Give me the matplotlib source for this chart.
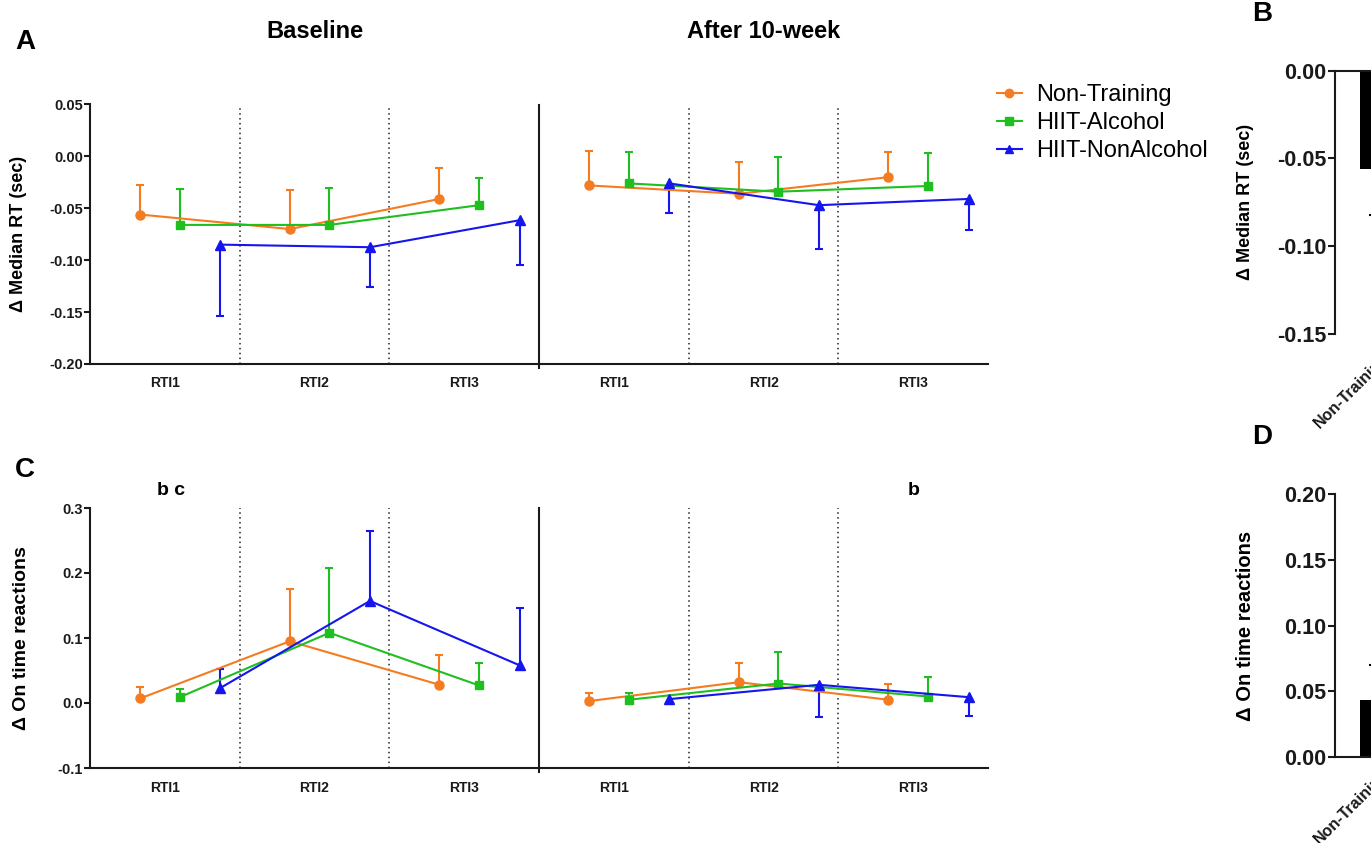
import numpy as np
import matplotlib.pyplot as plt
from matplotlib.lines import Line2D
from matplotlib.transforms import blended_transform_factory

plt.rcParams.update({
    "font.family": ["Liberation Sans", "DejaVu Sans"],
    "font.weight": "bold",
    "axes.labelweight": "bold",
    "axes.linewidth": 1.5,
    "axes.edgecolor": "#1a1a1a",
    "xtick.color": "#1a1a1a",
    "ytick.color": "#1a1a1a",
})

W, H = 1371, 843

# ---- data ----
groups = ["RTI1", "RTI2", "RTI3", "RTI1", "RTI2", "RTI3"]
series = ["Non-Training", "HIIT-Alcohol", "HIIT-NonAlcohol"]
colors = ["#F57B20", "#1FBF1F", "#1515EE"]
markers = ["o", "s", "^"]
offsets = [-0.165, 0.10, 0.37]

# Panel A: delta median RT (sec); first 3 = baseline, last 3 = after 10-week
rt_nt = [-0.056, -0.070, -0.041, -0.028, -0.036, -0.020]
rt_ha = [-0.066, -0.066, -0.047, -0.026, -0.034, -0.0285]
rt_hn = [-0.085, -0.0875, -0.0615, -0.026, -0.047, -0.041]
# signed error bars (only one side drawn): + up, - down
rt_nt_err = [0.028, 0.038, 0.030, 0.033, 0.0305, 0.024]
rt_ha_err = [0.035, 0.036, 0.026, 0.030, 0.033, 0.0315]
rt_hn_err = [-0.069, -0.0385, -0.0435, -0.029, -0.042, -0.0295]

# Panel C: delta on time reactions
ot_nt = [0.007, 0.095, 0.028, 0.003, 0.032, 0.005]
ot_ha = [0.009, 0.108, 0.027, 0.005, 0.030, 0.010]
ot_hn = [0.023, 0.157, 0.058, 0.006, 0.028, 0.009]
ot_nt_err = [0.018, 0.081, 0.046, 0.012, 0.030, 0.024]
ot_ha_err = [0.012, 0.099, 0.034, 0.010, 0.048, 0.030]
ot_hn_err = [0.030, 0.107, 0.088, -0.008, -0.049, -0.029]

# Panels B / D (only the first bar is inside the picture)
bar_labels = ["Non-Training"]
rt_bar = [-0.056]
rt_bar_err = [-0.026]
ot_bar = [0.043]
ot_bar_err = [0.027]


def px_axes(left, top, right, bottom):
    return fig.add_axes([left / W, 1 - bottom / H, (right - left) / W, (bottom - top) / H])


def line_panel(ax, means, errs, ylim, yticks, fmt):
    x0 = np.arange(len(groups))
    for i in range(len(series)):
        x = x0 + offsets[i]
        y = np.array(means[i])
        ends = y + np.array(errs[i])
        ax.vlines(x, y, ends, color=colors[i], lw=1.5, zorder=2)
        ax.plot(x, ends, ls="none", marker="_", ms=6, mew=1.5, color=colors[i], zorder=2)
        for seg in (slice(0, 3), slice(3, 6)):
            ax.plot(x[seg], y[seg], color=colors[i], lw=1.5, marker=markers[i],
                    ms=6.5 if markers[i] != "s" else 6, zorder=3)
    for b in (0.5, 1.5, 3.5, 4.5):
        ax.axvline(b, color="#222222", lw=1.1, ls=(0, (1, 2.2)), zorder=1)
    ax.axvline(2.5, ymin=-0.015, color="#1a1a1a", lw=1.5, clip_on=False, zorder=1)
    ax.set_xlim(-0.5, 5.5)
    ax.set_ylim(*ylim)
    ax.set_xticks(x0)
    ax.set_xticklabels(groups, fontsize=10)
    ax.set_yticks(yticks)
    ax.set_yticklabels([fmt % v for v in yticks], fontsize=10.5)
    ax.tick_params(axis="x", length=0, pad=9)
    ax.tick_params(axis="y", length=4, width=1.5, pad=1)
    for s in ("top", "right"):
        ax.spines[s].set_visible(False)


fig = plt.figure(figsize=(W / 100, H / 100), dpi=100)

axA = px_axes(90, 104.5, 988, 364)
line_panel(axA, [rt_nt, rt_ha, rt_hn], [rt_nt_err, rt_ha_err, rt_hn_err],
           (-0.20, 0.05), [-0.20, -0.15, -0.10, -0.05, 0.00, 0.05], "%.2f")
axA.set_ylabel("\u0394 Median RT (sec)", fontsize=13, va="center")
axA.yaxis.set_label_coords(-0.080, 0.5)

axC = px_axes(90, 508, 988, 768)
line_panel(axC, [ot_nt, ot_ha, ot_hn], [ot_nt_err, ot_ha_err, ot_hn_err],
           (-0.1, 0.3), [-0.1, 0.0, 0.1, 0.2, 0.3], "%.1f")
axC.set_ylabel("\u0394 On time reactions", fontsize=14, va="center")
axC.yaxis.set_label_coords(-0.076, 0.5)

tA = blended_transform_factory(axA.transData, axA.transAxes)
axA.text(1, 1.28, "Baseline", transform=tA, ha="center", va="center", fontsize=17)
axA.text(4, 1.28, "After 10-week", transform=tA, ha="center", va="center", fontsize=17)

tC = blended_transform_factory(axC.transData, axC.transAxes)
axC.text(0.04, 1.069, "b c", transform=tC, ha="center", va="center", fontsize=14)
axC.text(5.0, 1.069, "b", transform=tC, ha="center", va="center", fontsize=14)

handles = [Line2D([], [], color=colors[i], marker=markers[i], lw=1.5, ms=6) for i in range(3)]
fig.legend(handles, series, loc="upper left", bbox_to_anchor=(997 / W, 1 - 84 / H),
           frameon=False, prop={"size": 17, "weight": "normal"}, handlelength=1.05,
           handletextpad=0.6, labelspacing=0.25, borderpad=0, borderaxespad=0)

# ---- bar panels (cut by the right edge) ----
def bar_panel(ax, vals, errs, ylim, yticks, label, lsize, lpad):
    x = np.arange(len(vals))
    ax.bar(x, vals, width=0.74, color="black", zorder=2)
    ends = np.array(vals) + np.array(errs)
    ax.vlines(x, vals, ends, color="black", lw=1.5, zorder=1)
    ax.plot(x, ends, ls="none", marker="_", ms=19, mew=1.5, color="black", zorder=1)
    ax.set_xlim(-0.78, 4.22)
    ax.set_ylim(*ylim)
    ax.set_yticks(yticks)
    ax.set_yticklabels(["%.2f" % v for v in yticks], fontsize=15.5)
    ax.set_xticks(x)
    ax.set_xticklabels(bar_labels, rotation=45, ha="right", va="top",
                       rotation_mode="anchor", fontsize=11.5)
    ax.tick_params(axis="x", length=0, pad=lpad)
    ax.tick_params(axis="y", length=5, width=1.5, pad=1)
    ax.spines["right"].set_visible(False)
    ax.set_ylabel(label, fontsize=lsize, va="center")
    ax.yaxis.set_label_coords(-0.297, 0.5)


axB = px_axes(1335, 70.7, 1635, 334)
bar_panel(axB, rt_bar, rt_bar_err, (-0.15, 0.0), [-0.15, -0.10, -0.05, 0.00],
          "\u0394 Median RT (sec)", 13, 12)
axB.spines["bottom"].set_visible(False)

axD = px_axes(1335, 494, 1635, 757)
bar_panel(axD, ot_bar, ot_bar_err, (0.0, 0.20), [0.00, 0.05, 0.10, 0.15, 0.20],
          "\u0394 On time reactions", 14.5, 7)
axD.spines["top"].set_visible(False)

for letter, xp, yp in (("A", 25, 42), ("C", 25, 470), ("B", 1262, 14), ("D", 1262, 437)):
    fig.text(xp / W, 1 - yp / H, letter, fontsize=20, ha="center", va="center")

fig.savefig("out.png", dpi=100)
